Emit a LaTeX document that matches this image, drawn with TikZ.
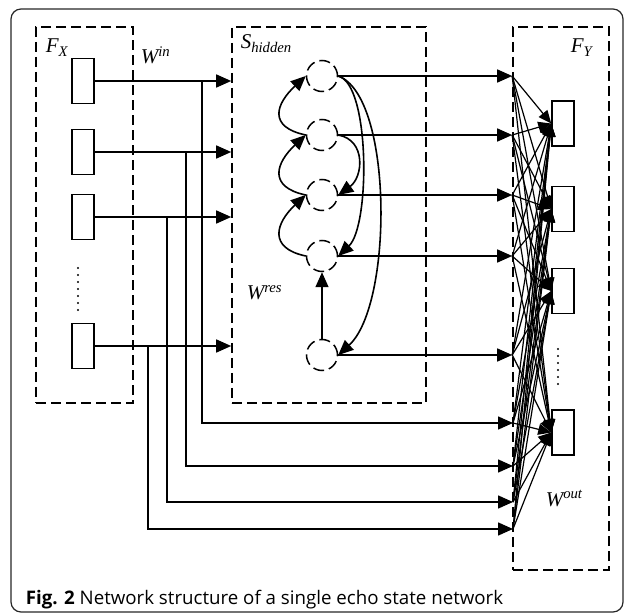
\documentclass[tikz,border=0pt]{standalone}
\usepackage{fontspec}
\setmainfont{Liberation Serif}
\newfontfamily\capfont{Open Sans}
\usetikzlibrary{arrows.meta}

\begin{document}
\begin{tikzpicture}[x=1pt, y=-1pt, line width=1.6pt,
  >={Triangle[length=15pt,width=13pt]},
  dbox/.style={draw, dash pattern=on 10pt off 5pt, line width=1.6pt, inner sep=0pt},
  unit/.style={draw, line width=1.5pt, minimum width=22pt, minimum height=45pt, inner sep=0pt},
  res/.style={draw, circle, dash pattern=on 11pt off 5pt, line width=1.5pt, minimum size=31pt, inner sep=0pt},
  lab/.style={font=\fontsize{21}{23}\selectfont\itshape, inner sep=0pt, anchor=base west},
  fan/.style={line width=1.2pt, -{Triangle[length=13pt,width=11pt]}},
  vdots/.style={line width=2.2pt, line cap=round, dash pattern=on 0pt off 7pt}]
  \useasboundingbox (0,0) rectangle (625,615);
  \draw[line width=1.2pt, black!85, rounded corners=10pt] (11,9) rectangle (623,612);

  % layer boxes
  \node[dbox, minimum width=97pt, minimum height=376pt] (FX) at (84.5,215) {};
  \node[dbox, minimum width=194pt, minimum height=376pt] (SH) at (329,215) {};
  \node[dbox, minimum width=96pt, minimum height=543pt] (FY) at (561,298.5) {};

  \node[lab] (lfx) at (45,53) {F\textsubscript{X}};
  \node[lab] (lwin) at (140,64) {W\textsuperscript{in}};
  \node[lab] (lsh) at (240,49) {S\textsubscript{hidden}};
  \node[lab] (lfy) at (570,53) {F\textsubscript{Y}};
  \node[lab] (lwres) at (246,300) {W\textsuperscript{res}};
  \node[lab] (lwout) at (545,506) {W\textsuperscript{out}};

  % input units
  \foreach \i/\y in {1/81, 2/152, 3/217, 4/346}
    \node[unit] (x\i) at (83,\y) {};
  \draw[vdots] (78,268) -- (78,312);

  % output units
  \foreach \j/\y in {1/123.5, 2/209, 3/291, 4/432.5}
    \node[unit] (y\j) at (563,\y) {};
  \draw[vdots] (558,349) -- (558,391);

  % reservoir
  \foreach \k/\y in {1/76, 2/135, 3/195, 4/256, 5/355}
    \node[res] (r\k) at (322,\y) {};

  \draw[->] (r2.west) .. controls +(-38,-8) and +(-30,28) .. (r1.west);
  \draw[->] (r3.west) .. controls +(-38,-8) and +(-30,28) .. (r2.west);
  \draw[->] (r4.west) .. controls +(-38,-8) and +(-30,28) .. (r3.west);
  \draw[->] (r2.east) .. controls +(28,5) and +(25,-18) .. (r3.east);
  \draw[->] (r1.east) .. controls +(32,8) and +(32,-30) .. (r4.east);
  \draw[->] (r1.east) .. controls +(55,20) and +(55,-50) .. (r5.east);
  \draw[->] (r5.north) -- (r4.south);

  % input weights
  \foreach \i in {1,...,4}
    \draw[->] (x\i.east) -- (x\i.east -| SH.west);

  % sinks on the output layer
  \foreach \k in {1,...,5}
    \coordinate (s\k) at (r\k -| FY.west);
  \foreach \i/\y/\bx/\by [evaluate=\i as \n using int(\i+5)] in {1/81/202/423, 2/152/186/466, 3/217/167/502, 4/346/148/529} {
    \coordinate (b\i) at (\bx,\y);
    \coordinate (s\n) at (513,\by);
    \draw[->] (b\i) |- (s\n);
  }
  \foreach \k in {1,...,5}
    \draw[->] (r\k.east) -- (s\k);

  % output weights
  \foreach \i in {1,...,9}
    \foreach \j in {1,...,4}
      \draw[fan] (s\i) -- (y\j.west);

  \node[font=\capfont\fontsize{18.7}{22}\selectfont, anchor=base west, inner sep=0pt] (cap) at (25,604)
    {\textbf{Fig. 2} Network structure of a single echo state network};
\end{tikzpicture}
\end{document}
